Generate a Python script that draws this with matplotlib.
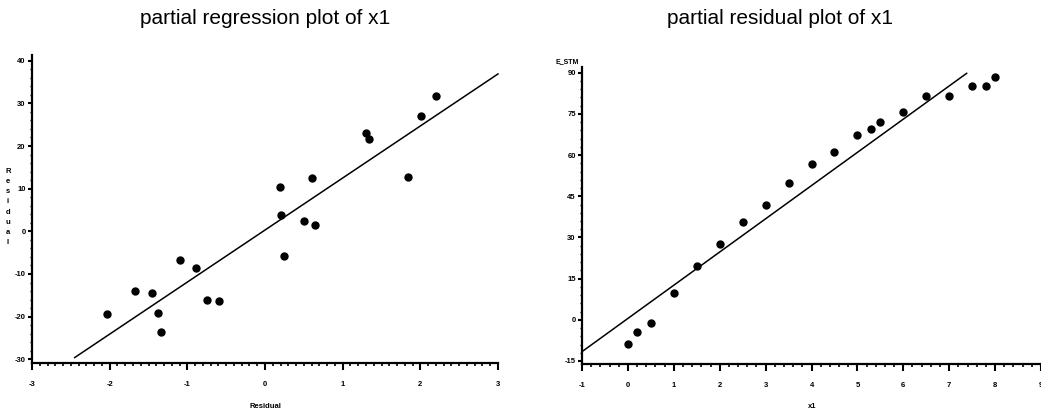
import matplotlib
matplotlib.use("Agg")
import matplotlib.pyplot as plt
from matplotlib.ticker import MultipleLocator, AutoMinorLocator
import numpy as np

# partial regression plot of x1 (residual vs residual)
reg_x = [-2.03, -1.67, -1.45, -1.38, -1.34, -1.10, -0.89, -0.75, -0.59, 0.19,
         0.20, 0.25, 0.50, 0.61, 0.64, 1.30, 1.34, 1.84, 2.01, 2.20]
reg_y = [-19.3, -13.9, -14.5, -19.2, -23.7, -6.8, -8.6, -16.0, -16.4, 10.4,
         3.8, -5.9, 2.5, 12.5, 1.6, 23.1, 21.7, 12.8, 27.1, 31.8]
reg_slope, reg_icpt = 12.2, 0.3
reg_line_x = [-2.45, 3.0]

# partial residual plot of x1
res_x = [0, 0.2, 0.5, 1.0, 1.5, 2.0, 2.5, 3.0, 3.5, 4.0,
         4.5, 5.0, 5.3, 5.5, 6.0, 6.5, 7.0, 7.5, 7.8, 8.0]
res_y = [-8.9, -4.3, -1.2, 9.9, 19.7, 27.7, 35.8, 41.8, 49.7, 56.8,
         61.3, 67.3, 69.4, 72.1, 75.6, 81.6, 81.6, 85.0, 85.3, 88.6]
res_slope, res_icpt = 12.1, 0.5
res_line_x = [-1.0, 7.38]

plt.rcParams["font.family"] = ["Liberation Sans Narrow", "Liberation Sans", "DejaVu Sans"]
plt.rcParams["axes.unicode_minus"] = False

W, H = 1041, 413
fig = plt.figure(figsize=(W / 100, H / 100), dpi=100)


def px_axes(left, top, right, bottom):
    return fig.add_axes([left / W, 1 - bottom / H, (right - left) / W, (bottom - top) / H])


def style(ax):
    for s in ("top", "right"):
        ax.spines[s].set_visible(False)
    for s in ("left", "bottom"):
        ax.spines[s].set_linewidth(1.6)
    ax.tick_params(axis="x", which="major", direction="out", length=5, width=1.5,
                   labelsize=5.5, pad=8)
    ax.tick_params(axis="x", which="minor", direction="out", length=2.5, width=1.2)
    ax.tick_params(axis="y", which="major", direction="out", length=3, width=1.5,
                   labelsize=5.5, pad=1.5)
    ax.tick_params(axis="y", which="minor", direction="out", length=1.5, width=1.0)
    for lab in ax.get_xticklabels() + ax.get_yticklabels():
        lab.set_fontweight("bold")


# left panel
ax1 = px_axes(32, 55, 498, 363)
ax1.plot(reg_x, reg_y, "o", color="black", ms=5, clip_on=False)
lx = np.array(reg_line_x)
ax1.plot(lx, reg_slope * lx + reg_icpt, color="black", lw=1.1, clip_on=False)
ax1.set_xlim(-3, 3)
ax1.set_ylim(-30.87, 41.34)
ax1.xaxis.set_major_locator(MultipleLocator(1))
ax1.xaxis.set_minor_locator(AutoMinorLocator(10))
ax1.yaxis.set_major_locator(MultipleLocator(10))
ax1.yaxis.set_minor_locator(AutoMinorLocator(5))
style(ax1)
fig.text(265 / W, 1 - 18 / H, "partial regression plot of x1", ha="center", va="center",
         fontsize=15)
fig.text(265 / W, 1 - 406 / H, "Residual", ha="center", va="center",
         fontsize=5.5, fontweight="bold")
fig.text(8 / W, 1 - 207 / H, "\n".join("Residual"), ha="center", va="center",
         fontsize=5.5, fontweight="bold", linespacing=1.65)

# right panel
ax2 = px_axes(582, 67, 1041, 364)
ax2.plot(res_x, res_y, "o", color="black", ms=5, clip_on=False)
rx = np.array(res_line_x)
ax2.plot(rx, res_slope * rx + res_icpt, color="black", lw=1.1, clip_on=False)
ax2.set_xlim(-1, 9)
ax2.set_ylim(-16.1, 92.1)
ax2.xaxis.set_major_locator(MultipleLocator(1))
ax2.xaxis.set_minor_locator(AutoMinorLocator(5))
ax2.yaxis.set_major_locator(MultipleLocator(15))
ax2.yaxis.set_minor_locator(AutoMinorLocator(5))
style(ax2)
fig.text(780 / W, 1 - 18 / H, "partial residual plot of x1", ha="center", va="center",
         fontsize=15)
fig.text(812 / W, 1 - 406 / H, "x1", ha="center", va="center",
         fontsize=5.5, fontweight="bold")
fig.text(567 / W, 1 - 62 / H, "E_STM", ha="center", va="center",
         fontsize=5, fontweight="bold")

fig.savefig("out.png", dpi=100)
